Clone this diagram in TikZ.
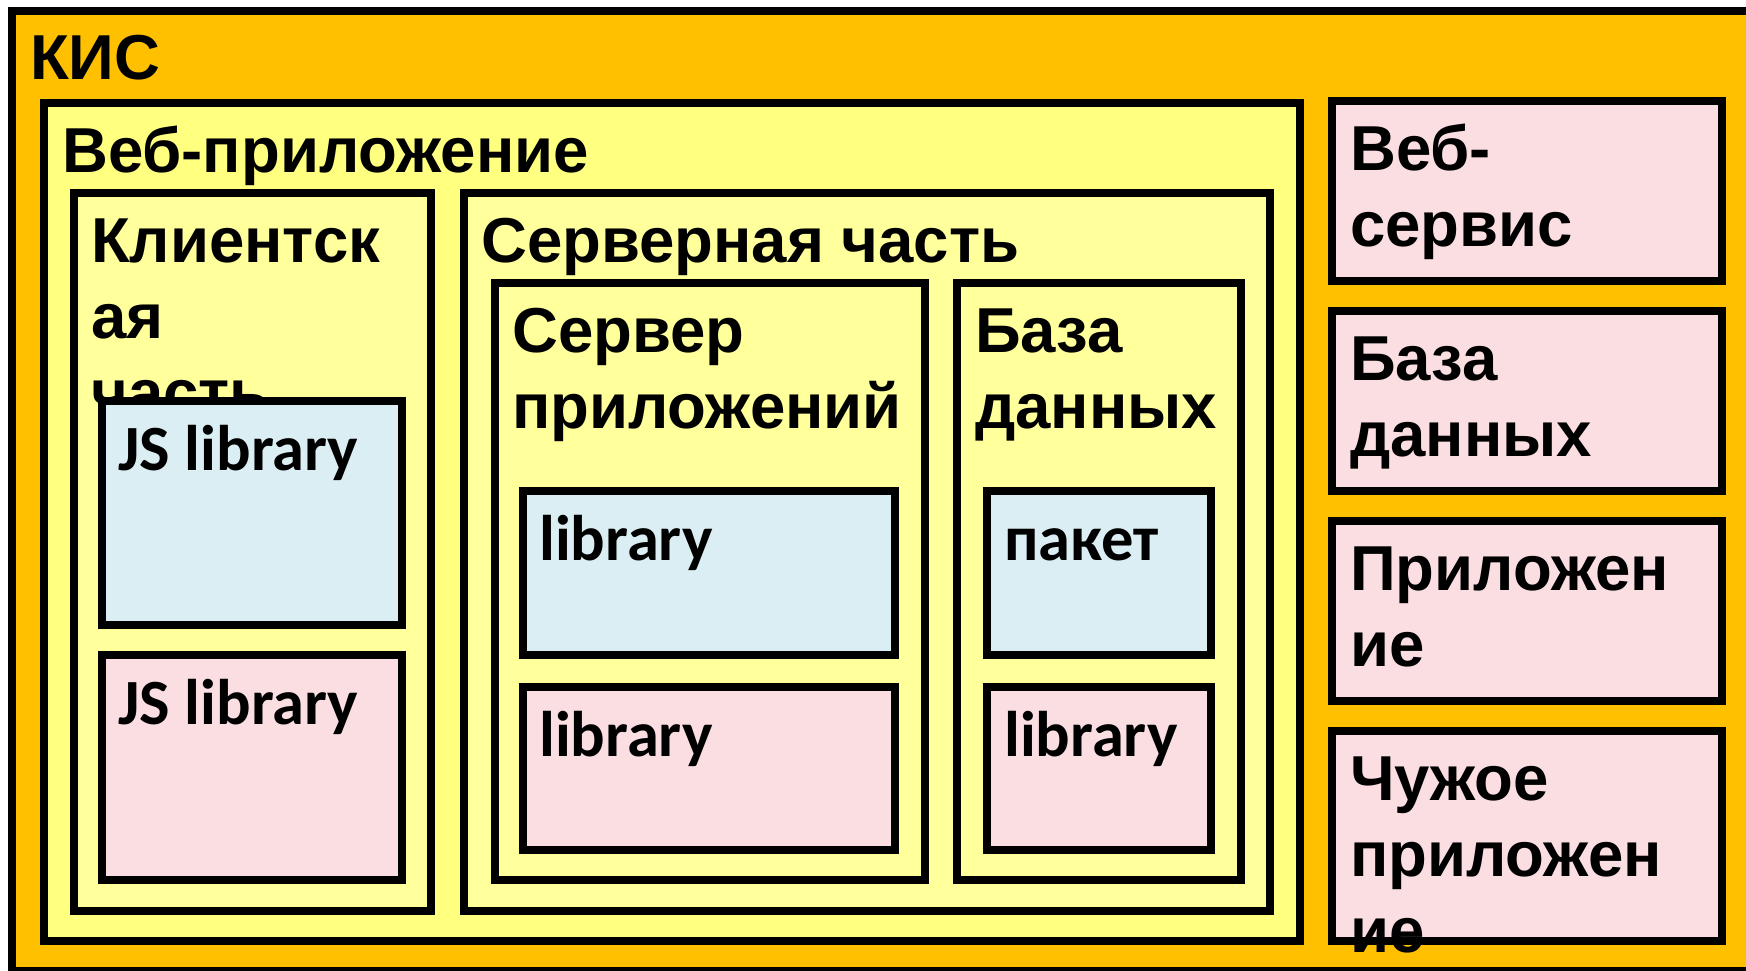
\documentclass[tikz,border=0pt]{standalone}
\usepackage{fontspec}
\newfontfamily\headfont{Liberation Sans}
\newfontfamily\libfont{Carlito}
\definecolor{kisorange}{HTML}{FFC000}
\definecolor{webyellow}{HTML}{FFFF80}
\definecolor{partyellow}{HTML}{FFFF9B}
\definecolor{libblue}{HTML}{DBEEF3}
\definecolor{libpink}{HTML}{FADEE2}
\begin{document}
\begin{tikzpicture}[x=1pt,y=-1pt,
  box/.style={draw, line width=8pt, anchor=north west, inner sep=0pt, outer sep=0pt},
  ttl/.style={anchor=base west, inner sep=0pt, align=left, font=\headfont\bfseries\fontsize{63.5}{76}\selectfont},
  lib/.style={anchor=base west, inner sep=0pt, font=\libfont\bfseries\fontsize{64.5}{76}\selectfont}]
\useasboundingbox (0,0) rectangle (1746,971);
\clip (0,0) rectangle (1746,971);
\node[box, fill=kisorange, minimum width=1768, minimum height=960] (kis) at (12,11) {};
\node[ttl] (kis-t) at ([shift={(18,69)}]kis.north west) {КИС};
\node[box, fill=webyellow, minimum width=1256, minimum height=838] (web) at (44,103) {};
\node[ttl] (web-t) at ([shift={(18,69)}]web.north west) {Веб-приложение};
% client side
\node[box, fill=partyellow, minimum width=357, minimum height=718] (client) at (74,193) {};
\node[ttl] (client-t) at ([shift={(17,221)}]client.north west) {Клиентск\\ая\\часть};
\node[box, fill=libblue, minimum width=300, minimum height=224] (jsa) at (102,401) {};
\node[lib] (jsa-t) at ([shift={(16,69)}]jsa.north west) {JS library};
\node[box, fill=libpink, minimum width=300, minimum height=225] (jsb) at (102,655) {};
\node[lib] (jsb-t) at ([shift={(16,69)}]jsb.north west) {JS library};
% server side
\node[box, fill=partyellow, minimum width=806, minimum height=718] (server) at (464,193) {};
\node[ttl] (server-t) at ([shift={(17,69)}]server.north west) {Серверная часть};
\node[box, fill=partyellow, minimum width=430, minimum height=597] (appsrv) at (495,283) {};
\node[ttl] (appsrv-t) at ([shift={(17,145)}]appsrv.north west) {Сервер\\приложений};
\node[box, fill=libblue, minimum width=372, minimum height=164] (liba) at (523,491) {};
\node[lib] (liba-t) at ([shift={(16,69)}]liba.north west) {library};
\node[box, fill=libpink, minimum width=372, minimum height=163] (libb) at (523,687) {};
\node[lib] (libb-t) at ([shift={(16,69)}]libb.north west) {library};
\node[box, fill=partyellow, minimum width=284, minimum height=597] (db) at (957,283) {};
\node[ttl] (db-t) at ([shift={(18,145)}]db.north west) {База\\данных};
\node[box, fill=libblue, minimum width=224, minimum height=164] (pkg) at (987,491) {};
\node[lib] (pkg-t) at ([shift={(17,69)}]pkg.north west) {пакет};
\node[box, fill=libpink, minimum width=224, minimum height=163] (libc) at (987,687) {};
\node[lib] (libc-t) at ([shift={(17,69)}]libc.north west) {library};
% outside the web application
\node[box, fill=libpink, minimum width=390, minimum height=180] (ws) at (1332,101) {};
\node[ttl] (ws-t) at ([shift={(18,145)}]ws.north west) {Веб-\\сервис};
\node[box, fill=libpink, minimum width=390, minimum height=180] (extdb) at (1332,311) {};
\node[ttl] (extdb-t) at ([shift={(18,145)}]extdb.north west) {База\\данных};
\node[box, fill=libpink, minimum width=390, minimum height=180] (app) at (1332,521) {};
\node[ttl] (app-t) at ([shift={(18,145)}]app.north west) {Приложен\\ие};
\node[box, fill=libpink, minimum width=390, minimum height=210] (ext) at (1332,731) {};
\node[ttl] (ext-t) at ([shift={(18,221)}]ext.north west) {Чужое\\приложен\\ие};
\end{tikzpicture}
\end{document}
